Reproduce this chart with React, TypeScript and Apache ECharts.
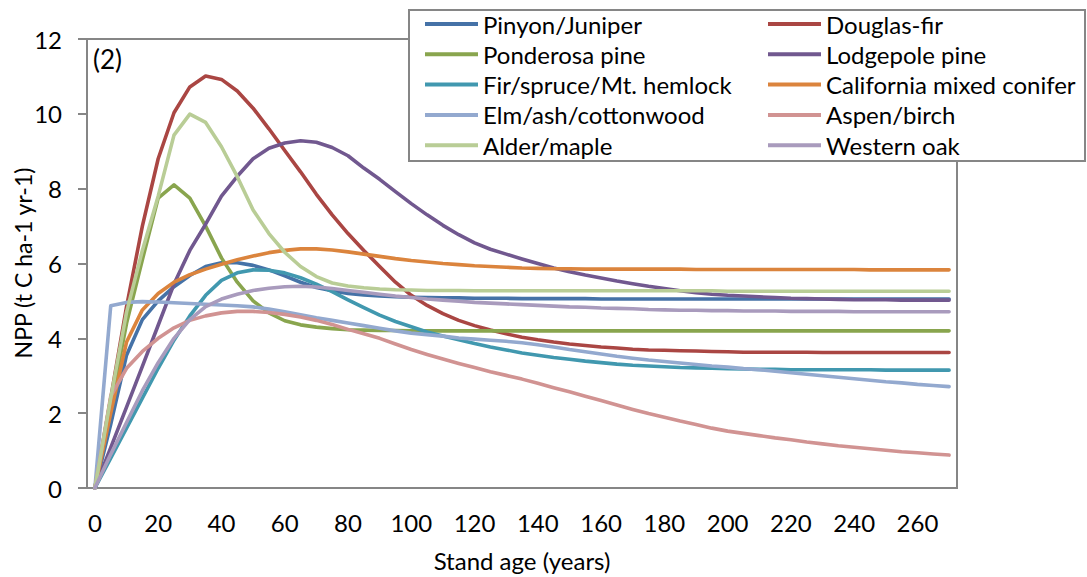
import React, { useEffect, useRef } from "react";
import * as echarts from "echarts";

const years = [
  0, 5, 10, 15, 20, 25, 30, 35, 40, 45,
  50, 55, 60, 65, 70, 75, 80, 85, 90, 95,
  100, 105, 110, 115, 120, 125, 130, 135, 140, 145,
  150, 155, 160, 165, 170, 175, 180, 185, 190, 195,
  200, 205, 210, 215, 220, 225, 230, 235, 240, 245,
  250, 255, 260, 265, 270,
];

const pinyon = [
  0, 1.7, 3.55, 4.5, 5.0, 5.38, 5.68, 5.92, 6.02, 6.02,
  5.95, 5.83, 5.67, 5.5, 5.36, 5.27, 5.2, 5.16, 5.13, 5.11,
  5.1, 5.09, 5.08, 5.08, 5.07, 5.07, 5.07, 5.06, 5.06, 5.06,
  5.06, 5.06, 5.05, 5.05, 5.05, 5.05, 5.05, 5.05, 5.05, 5.05,
  5.05, 5.05, 5.05, 5.05, 5.05, 5.05, 5.05, 5.05, 5.05, 5.05,
  5.05, 5.05, 5.05, 5.05, 5.05,
];
const douglas = [
  0, 2.4, 4.85, 7.0, 8.8, 10.03, 10.72, 11.01, 10.92, 10.61,
  10.15, 9.6, 9.02, 8.45, 7.85, 7.3, 6.8, 6.35, 5.92, 5.5,
  5.15, 4.88, 4.66, 4.48, 4.34, 4.22, 4.12, 4.03, 3.96, 3.9,
  3.85, 3.81, 3.77, 3.74, 3.71, 3.69, 3.68, 3.67, 3.66, 3.65,
  3.64, 3.63, 3.63, 3.63, 3.63, 3.63, 3.62, 3.62, 3.62, 3.62,
  3.62, 3.62, 3.62, 3.62, 3.62,
];
const ponderosa = [
  0, 2.2, 4.4, 6.1, 7.75, 8.1, 7.75, 7.0, 6.15, 5.5,
  5.0, 4.68, 4.47, 4.36, 4.3, 4.26, 4.23, 4.22, 4.21, 4.21,
  4.2, 4.2, 4.2, 4.2, 4.2, 4.2, 4.2, 4.2, 4.2, 4.2,
  4.2, 4.2, 4.2, 4.2, 4.2, 4.2, 4.2, 4.2, 4.2, 4.2,
  4.2, 4.2, 4.2, 4.2, 4.2, 4.2, 4.2, 4.2, 4.2, 4.2,
  4.2, 4.2, 4.2, 4.2, 4.2,
];
const lodgepole = [
  0, 1.08, 2.16, 3.25, 4.35, 5.45, 6.35, 7.05, 7.8, 8.33,
  8.8, 9.08, 9.22, 9.28, 9.24, 9.1, 8.88, 8.55, 8.25, 7.92,
  7.6, 7.3, 7.02, 6.77, 6.55, 6.38, 6.25, 6.12, 6.0, 5.88,
  5.78, 5.69, 5.61, 5.53, 5.46, 5.39, 5.33, 5.27, 5.22, 5.18,
  5.15, 5.13, 5.11, 5.09, 5.07, 5.06, 5.05, 5.04, 5.03, 5.03,
  5.03, 5.02, 5.02, 5.02, 5.02,
];
const firSpruce = [
  0, 0.8, 1.6, 2.4, 3.2, 3.95, 4.6, 5.15, 5.55, 5.75,
  5.83, 5.82, 5.75, 5.62, 5.45, 5.25, 5.03, 4.82, 4.62, 4.45,
  4.31, 4.17, 4.06, 3.96, 3.86, 3.77, 3.69, 3.61, 3.55, 3.49,
  3.44, 3.39, 3.35, 3.31, 3.28, 3.26, 3.24, 3.22, 3.21, 3.2,
  3.19, 3.18, 3.17, 3.17, 3.16, 3.16, 3.16, 3.16, 3.16, 3.16,
  3.15, 3.15, 3.15, 3.15, 3.15,
];
const california = [
  0, 2.0, 3.9, 4.76, 5.2, 5.5, 5.7, 5.85, 5.98, 6.1,
  6.2, 6.29, 6.35, 6.39, 6.39, 6.36, 6.31, 6.25, 6.19, 6.13,
  6.08, 6.04, 6.0, 5.97, 5.94, 5.92, 5.9, 5.88, 5.87, 5.86,
  5.86, 5.85, 5.85, 5.85, 5.85, 5.85, 5.85, 5.85, 5.84, 5.84,
  5.84, 5.84, 5.84, 5.84, 5.84, 5.84, 5.84, 5.84, 5.84, 5.83,
  5.83, 5.83, 5.83, 5.83, 5.83,
];
const elmAsh = [
  0, 4.87, 4.96, 4.98, 4.97, 4.95, 4.93, 4.91, 4.89, 4.87,
  4.84, 4.78, 4.71, 4.63, 4.55, 4.48, 4.41, 4.34, 4.27, 4.2,
  4.14, 4.1, 4.06, 4.01, 3.98, 3.95, 3.92, 3.88, 3.83, 3.77,
  3.7, 3.64, 3.58, 3.52, 3.47, 3.42, 3.38, 3.34, 3.3, 3.26,
  3.23, 3.19, 3.16, 3.12, 3.08, 3.04, 3.0, 2.96, 2.92, 2.88,
  2.84, 2.81, 2.77, 2.74, 2.71,
];
const aspen = [
  0, 2.45, 3.2, 3.65, 4.0, 4.28, 4.48, 4.6, 4.68, 4.72,
  4.72, 4.69, 4.64, 4.57, 4.48, 4.37, 4.24, 4.12, 4.0, 3.85,
  3.7, 3.57, 3.45, 3.33, 3.22, 3.11, 3.01, 2.91, 2.8, 2.68,
  2.57, 2.45, 2.34, 2.22, 2.1, 1.99, 1.89, 1.79, 1.7, 1.6,
  1.52, 1.46, 1.4, 1.34, 1.29, 1.23, 1.18, 1.13, 1.09, 1.05,
  1.01, 0.97, 0.94, 0.91, 0.88,
];
const alder = [
  0, 2.4, 4.7, 6.35, 7.8, 9.43, 9.99, 9.77, 9.12, 8.32,
  7.43, 6.8, 6.3, 5.92, 5.65, 5.48, 5.4, 5.35, 5.32, 5.3,
  5.29, 5.28, 5.28, 5.28, 5.27, 5.27, 5.27, 5.27, 5.27, 5.27,
  5.27, 5.27, 5.27, 5.27, 5.27, 5.27, 5.27, 5.27, 5.27, 5.27,
  5.26, 5.26, 5.26, 5.26, 5.26, 5.26, 5.26, 5.26, 5.26, 5.26,
  5.26, 5.26, 5.26, 5.26, 5.26,
];
const westernOak = [
  0, 0.9, 1.75, 2.6, 3.35, 4.0, 4.5, 4.85, 5.05, 5.18,
  5.28, 5.34, 5.38, 5.39, 5.37, 5.33, 5.28, 5.23, 5.18, 5.13,
  5.09, 5.05, 5.02, 4.99, 4.96, 4.94, 4.92, 4.9, 4.88, 4.86,
  4.84, 4.83, 4.81, 4.8, 4.79, 4.77, 4.76, 4.75, 4.75, 4.74,
  4.74, 4.73, 4.73, 4.73, 4.72, 4.72, 4.72, 4.72, 4.71, 4.71,
  4.71, 4.71, 4.71, 4.71, 4.71,
];

const seriesNames = [
  "Pinyon/Juniper", "Douglas-fir", "Ponderosa pine", "Lodgepole pine",
  "Fir/spruce/Mt. hemlock", "California mixed conifer", "Elm/ash/cottonwood",
  "Aspen/birch", "Alder/maple", "Western oak",
];
const seriesData = [
  pinyon, douglas, ponderosa, lodgepole, firSpruce,
  california, elmAsh, aspen, alder, westernOak,
];
const seriesColors = [
  "#4572A7", "#AA4643", "#89A54E", "#71588F", "#4198AF",
  "#DB843D", "#93A9CF", "#D19392", "#B9CD96", "#A99BBD",
];

const leftColumn = ["Pinyon/Juniper", "Ponderosa pine", "Fir/spruce/Mt. hemlock", "Elm/ash/cottonwood", "Alder/maple"];
const rightColumn = ["Douglas-fir", "Lodgepole pine", "California mixed conifer", "Aspen/birch", "Western oak"];

const yAxisTitle = "NPP (t C ha-1 yr-1)";
const xAxisTitle = "Stand age (years)";
const panelLabel = "(2)";

const FONT = "Lato";
const AXIS_GREY = "#868686";

export default function App() {
  const ref = useRef<HTMLDivElement>(null);
  useEffect(() => {
    if (!ref.current) return;
    const chart = echarts.init(ref.current, undefined, { renderer: "svg" });
    const legendBase = {
      orient: "vertical",
      top: 12,
      padding: 0,
      itemWidth: 53,
      itemHeight: 4,
      itemGap: 6.3,
      icon: "rect",
      z: 20,
      textStyle: { fontFamily: FONT, fontSize: 24, color: "#000", lineHeight: 24 },
    };
    chart.setOption({
      animation: false,
      backgroundColor: "#fff",
      grid: {
        left: 87, right: 130, top: 39, bottom: 89,
        containLabel: false,
        outerBoundsMode: "none",
        show: true, borderColor: AXIS_GREY, borderWidth: 2,
      },
      legend: [
        { ...legendBase, left: 425, data: leftColumn },
        { ...legendBase, left: 768, data: rightColumn },
      ],
      graphic: [
        {
          type: "rect",
          z: 15,
          shape: { x: 409, y: 10, width: 676, height: 151 },
          style: { fill: "#fff", stroke: AXIS_GREY, lineWidth: 2 },
        },
        {
          type: "text",
          z: 15,
          left: 93,
          top: 46,
          style: { text: panelLabel, fontFamily: FONT, fontSize: 26, fill: "#000" },
        },
        {
          type: "text",
          z: 15,
          x: 23,
          y: 263,
          rotation: Math.PI / 2,
          style: {
            text: yAxisTitle, fontFamily: FONT, fontSize: 23, fill: "#000",
            align: "center", verticalAlign: "middle",
          },
        },
      ],
      xAxis: {
        type: "category",
        data: years,
        boundaryGap: true,
        name: xAxisTitle,
        nameLocation: "middle",
        nameGap: 60,
        nameTextStyle: { fontFamily: FONT, fontSize: 24, color: "#000" },
        axisLine: { lineStyle: { color: AXIS_GREY, width: 2 } },
        axisTick: { interval: 1, length: 9, lineStyle: { color: AXIS_GREY, width: 2 } },
        axisLabel: { interval: 3, fontFamily: FONT, fontSize: 24, color: "#000", margin: 22 },
        splitLine: { show: false },
      },
      yAxis: {
        type: "value",
        min: 0,
        max: 12,
        interval: 2,
        axisLine: { show: true, lineStyle: { color: AXIS_GREY, width: 2 } },
        axisTick: { show: true, length: 9, lineStyle: { color: AXIS_GREY, width: 2 } },
        axisLabel: { fontFamily: FONT, fontSize: 24, color: "#000", margin: 25 },
        splitLine: { show: false },
      },
      series: seriesNames.map((name, i) => ({
        name,
        type: "line",
        data: seriesData[i],
        color: seriesColors[i],
        showSymbol: false,
        symbol: "none",
        smooth: false,
        lineStyle: { width: 3.6, color: seriesColors[i], cap: "round", join: "round" },
        emphasis: { disabled: true },
      })),
    });
    return () => chart.dispose();
  }, []);
  return (
    <div
      ref={ref}
      style={{ position: "fixed", left: 0, top: 0, width: 1087, height: 577, background: "#fff" }}
    />
  );
}
